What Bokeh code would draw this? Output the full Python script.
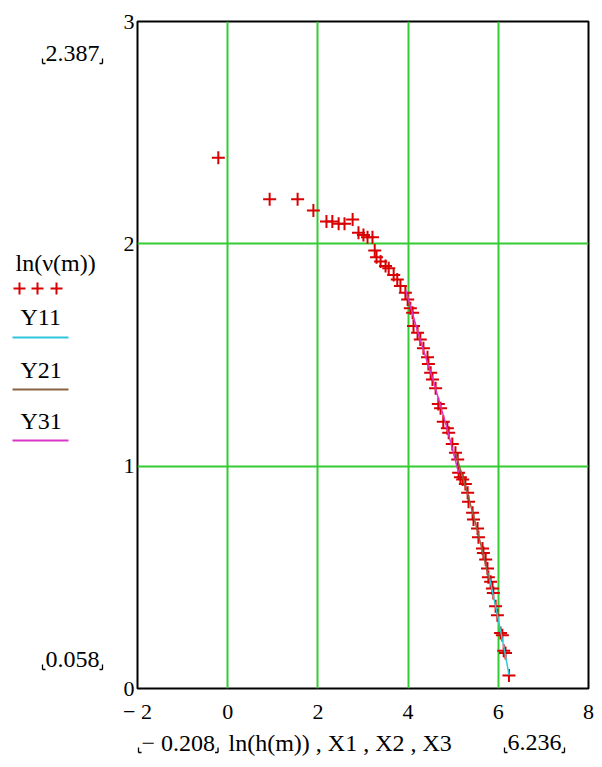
from bokeh.plotting import figure
from bokeh.layouts import row, column
from bokeh.models import FixedTicker
from bokeh.core.properties import value
from bokeh.embed import file_html
from bokeh.resources import INLINE

# measured points: ln(h(m)) vs ln(nu(m))
ln_h = [-0.208, 0.93, 1.55, 1.90, 2.19, 2.32, 2.46, 2.59, 2.77, 2.90, 3.01, 3.10,
        3.21, 3.26, 3.30, 3.39, 3.50, 3.57, 3.68, 3.76, 3.83, 3.94, 3.99, 4.05,
        4.10, 4.12, 4.21, 4.27, 4.34, 4.43, 4.45, 4.50, 4.54, 4.61, 4.67, 4.72,
        4.78, 4.87, 4.90, 4.98, 5.05, 5.10, 5.12, 5.16, 5.21, 5.27, 5.32, 5.34,
        5.43, 5.45, 5.54, 5.56, 5.65, 5.67, 5.72, 5.76, 5.78, 5.83, 5.87, 5.89,
        5.94, 5.98, 6.05, 6.09, 6.12, 6.16, 6.236]
ln_nu = [2.387, 2.20, 2.20, 2.15, 2.10, 2.10, 2.09, 2.09, 2.11, 2.05, 2.04, 2.03,
         2.03, 1.97, 1.94, 1.92, 1.90, 1.89, 1.86, 1.84, 1.81, 1.78, 1.75, 1.71,
         1.69, 1.63, 1.60, 1.57, 1.53, 1.49, 1.46, 1.42, 1.39, 1.35, 1.28, 1.26,
         1.20, 1.17, 1.15, 1.10, 1.06, 1.03, 0.97, 0.95, 0.94, 0.92, 0.88, 0.84,
         0.79, 0.76, 0.72, 0.68, 0.63, 0.61, 0.58, 0.54, 0.50, 0.48, 0.45, 0.43,
         0.37, 0.33, 0.25, 0.24, 0.17, 0.16, 0.058]

# fitted segments
X1 = [5.78, 5.95, 6.10, 6.24]
Y11 = [0.52, 0.36, 0.21, 0.06]
X2 = [5.05, 5.30, 5.55, 5.80]
Y21 = [1.06, 0.89, 0.70, 0.49]
X3 = [3.95, 4.25, 4.55, 4.85, 5.12]
Y31 = [1.79, 1.58, 1.39, 1.18, 0.97]

x_ticks = [-2, 0, 2, 4, 6, 8]
y_ticks = [0, 1, 2, 3]
X_MIN, X_MAX = -2, 8
Y_MIN, Y_MAX = 0, 3

legend_names = ["Y11", "Y21", "Y31"]
x_title = "ln(h(m)) , X1 , X2 , X3"
y_title = "ln(\u03bd(m))"

W, H = 602, 767
LEG_W = 120          # left strip holding the legend and the y-limit readouts
BOT_H = 40           # bottom strip holding the x title and x-limit readouts
MAIN_W = W - LEG_W
MAIN_H = H - BOT_H
FRAME_TOP, FRAME_BOTTOM = 21, 688

SERIF = "Liberation Serif"
TICK_FS = "22px"
TXT_PX = 24
TXT_FS = f"{TXT_PX}px"
GREEN = "#33cc33"
RED = "#d80000"
CYAN = "#30c8dc"
BROWN = "#8a6440"
MAGENTA = "#d836c8"
SERIES_COLORS = [CYAN, BROWN, MAGENTA]

# advance widths (em) of the serif face for the characters used in readouts
ADVANCE = {".": 0.25, " ": 0.25, "\u2212": 0.564}


def fmt(v):
    s = f"{v:.3f}"
    return s.replace("-", "\u2212 ")


def text_width(s, px):
    return sum(ADVANCE.get(ch, 0.5) for ch in s) * px


def bare(fig):
    fig.axis.visible = False
    fig.grid.visible = False
    fig.outline_line_color = None
    fig.background_fill_color = "white"
    fig.border_fill_color = "white"


def readout(fig, x_left, y_mid, text):
    """Limit readout: number framed by two small corner marks."""
    fig.text([x_left + 3], [y_mid], text=[text], text_font=value(SERIF),
             text_font_size=value(TXT_FS), text_baseline="middle",
             text_align="left", text_color="black")
    x_right = x_left + 3 + text_width(text, TXT_PX) + 3
    yb = y_mid + 10
    fig.segment([x_left, x_left, x_right, x_right - 3],
                [yb - 5, yb, yb - 5, yb],
                [x_left, x_left + 3, x_right, x_right],
                [yb, yb, yb, yb], line_color="black", line_width=1.3)


# ---- main plot ----
p = figure(width=MAIN_W, height=MAIN_H, x_range=(X_MIN, X_MAX), y_range=(Y_MIN, Y_MAX),
           output_backend="svg", toolbar_location=None,
           min_border_left=137 - LEG_W, min_border_right=14,
           min_border_top=FRAME_TOP, min_border_bottom=MAIN_H - FRAME_BOTTOM)

p.background_fill_color = "white"
p.border_fill_color = "white"
p.outline_line_color = "black"
p.outline_line_width = 2

for ax in (p.xaxis, p.yaxis):
    ax.axis_line_color = None
    ax.major_tick_line_color = None
    ax.minor_tick_line_color = None
    ax.major_tick_in = 0
    ax.major_tick_out = 0
    ax.minor_tick_in = 0
    ax.minor_tick_out = 0
    ax.major_label_text_font = SERIF
    ax.major_label_text_font_size = TICK_FS
    ax.major_label_text_color = "black"

p.xaxis.ticker = FixedTicker(ticks=x_ticks)
p.yaxis.ticker = FixedTicker(ticks=y_ticks)
p.xaxis.major_label_overrides = {-2: "\u2212 2"}
p.xaxis.major_label_standoff = 10
p.yaxis.major_label_standoff = 3

p.xgrid.grid_line_color = GREEN
p.ygrid.grid_line_color = GREEN
p.xgrid.grid_line_width = 2
p.ygrid.grid_line_width = 2

p.scatter(ln_h, ln_nu, marker="cross", size=13, line_color=RED, line_width=2)
for xs, ys, c in zip([X1, X2, X3], [Y11, Y21, Y31], SERIES_COLORS):
    p.line(xs, ys, line_color=c, line_width=1.5)

# ---- left strip: y-limit readouts and legend (page pixel coordinates) ----
# its frame spans the same rows as the main frame, so the y range is in page pixels
leg = figure(width=LEG_W, height=MAIN_H, x_range=(0, LEG_W),
             y_range=(FRAME_BOTTOM, FRAME_TOP),
             output_backend="svg", toolbar_location=None,
             min_border_left=0, min_border_right=0,
             min_border_top=FRAME_TOP, min_border_bottom=MAIN_H - FRAME_BOTTOM)
bare(leg)
readout(leg, 42, 53, fmt(max(ln_nu)))
readout(leg, 42, 659, fmt(min(ln_nu)))

leg.text([15], [262], text=[y_title], text_font=value(SERIF), text_font_size=value(TXT_FS),
         text_baseline="middle", text_align="left", text_color="black")
leg.scatter([19, 37, 56], [288, 288, 288], marker="cross", size=12,
            line_color=RED, line_width=2)
name_y = [316, 369, 420]
swatch_y = [337, 389, 440]
leg.text([20] * 3, name_y, text=legend_names, text_font=value(SERIF),
         text_font_size=value(TXT_FS), text_baseline="middle", text_align="left",
         text_color="black")
leg.segment([12] * 3, swatch_y, [68] * 3, swatch_y, line_color=SERIES_COLORS,
            line_width=2)

# ---- bottom strip: x title and x-limit readouts ----
bot = figure(width=W, height=BOT_H, x_range=(0, W), y_range=(H, MAIN_H),
             output_backend="svg", toolbar_location=None, min_border=0)
bare(bot)
readout(bot, 138, 742, fmt(min(ln_h)))
bot.text([228], [742], text=[x_title], text_font=value(SERIF), text_font_size=value(TXT_FS),
         text_baseline="middle", text_align="left", text_color="black")
readout(bot, 504, 742, fmt(max(ln_h)))

layout = column(row(leg, p, spacing=0), bot, spacing=0)
open("out.html", "w").write(file_html(layout, INLINE))
